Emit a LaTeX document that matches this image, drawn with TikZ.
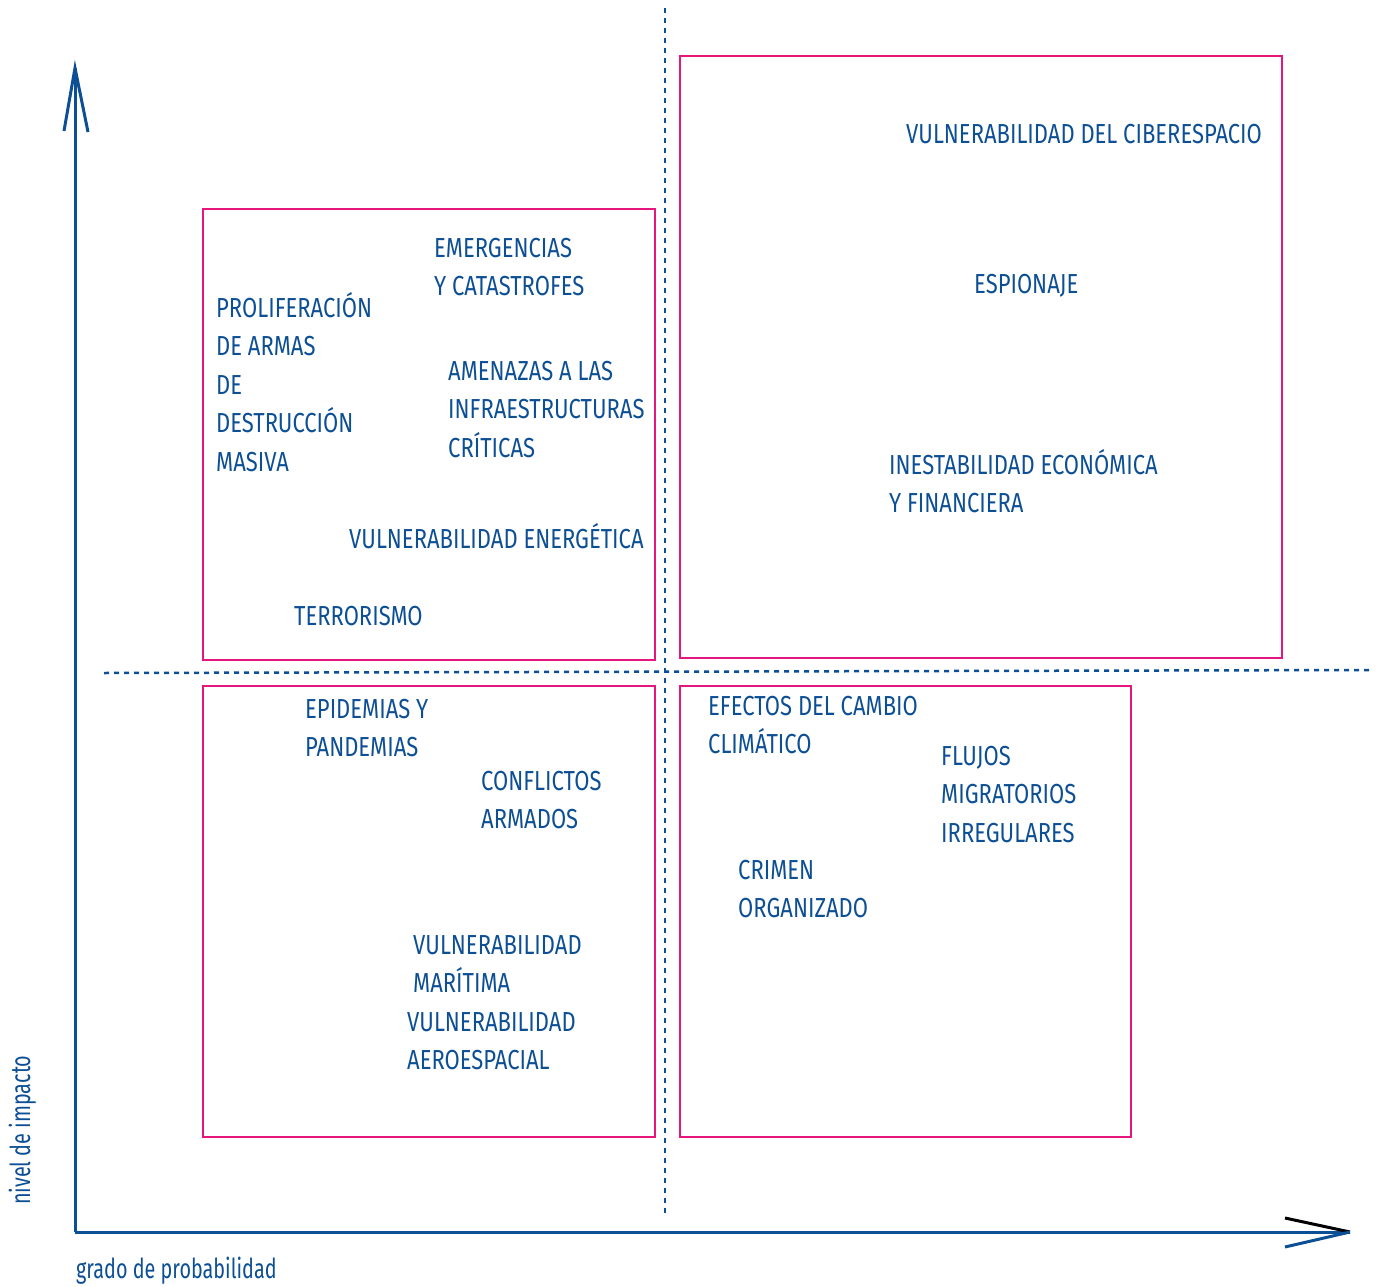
\documentclass[tikz,border=0pt]{standalone}
\usepackage{fontspec}
\setmainfont[FakeStretch=0.8]{Fira Sans}
\newfontfamily\axfont[FakeStretch=0.72]{Fira Sans}
\definecolor{ablue}{HTML}{0D4F94}
\definecolor{apink}{HTML}{E5177E}
\begin{document}
\begin{tikzpicture}[x=1pt,y=-1pt,
  axis/.style={ablue,line width=3pt},
  tip/.style={line width=3pt},
  grid/.style={ablue,line width=2.5pt,dash pattern=on 5pt off 5pt},
  qbox/.style={draw=apink,line width=2.5pt,anchor=north west,inner sep=0pt,outer sep=0pt},
  lbl/.style={anchor=north west,align=left,inner sep=0pt,text=ablue,
    font=\fontsize{27.5}{38.5}\selectfont},
  axlbl/.style={inner sep=0pt,text=ablue,font=\axfont\fontsize{27.5}{33}\selectfont}]
\useasboundingbox (0,0) rectangle (1379,1287);
% quadrant boxes
\node[qbox,minimum width=452pt,minimum height=451pt] (tl) at (203,209) {};
\node[qbox,minimum width=602pt,minimum height=602pt] (tr) at (680,56) {};
\node[qbox,minimum width=452pt,minimum height=451pt] (bl) at (203,686) {};
\node[qbox,minimum width=451pt,minimum height=451pt] (br) at (680,686) {};
% dotted dividers
\coordinate (vt) at (665,8);
\coordinate (vb) at (665,1213);
\coordinate (hl) at (104,673);
\coordinate (hr) at (1370,670);
\draw[grid] (vt) -- (vb);
\draw[grid] (hl) -- (hr);
% axes
\coordinate (o) at (75,1232);
\coordinate (ytip) at (75,68);
\coordinate (yl) at (64,131);
\coordinate (yr) at (88,132);
\coordinate (xtip) at (1350,1232);
\coordinate (xu) at (1285,1218);
\coordinate (xd) at (1285,1247);
\draw[axis,line cap=butt] (o) -- (ytip);
\draw[axis,line join=miter] (yl) -- (ytip) -- (yr);
\draw[axis] (o) -- (xtip);
\draw[tip,black] (xu) -- (xtip);
\draw[tip,ablue] (xd) -- (xtip);
% axis labels
\node[axlbl,anchor=base west] (xlab) at (76,1278) {grado de probabilidad};
\node[axlbl,anchor=base west,rotate=90] (ylab) at (30,1205) {nivel de impacto};
% labels
\def\S{\rule{0pt}{26pt}}
\node[lbl] (ciber) at (906,117) {\S VULNERABILIDAD DEL CIBERESPACIO};
\node[lbl] (espio) at (974,267) {\S ESPIONAJE};
\node[lbl] (inest) at (889,448) {\S INESTABILIDAD ECONÓMICA\\Y FINANCIERA};
\node[lbl] (emerg) at (434,231) {\S EMERGENCIAS\\Y CATASTROFES};
\node[lbl] (prolif) at (216,291) {\S PROLIFERACIÓN\\DE ARMAS\\DE\\DESTRUCCIÓN\\MASIVA};
\node[lbl] (amen) at (448,354) {\S AMENAZAS A LAS\\INFRAESTRUCTURAS\\CRÍTICAS};
\node[lbl] (energ) at (349,522) {\S VULNERABILIDAD ENERGÉTICA};
\node[lbl] (terr) at (294,599) {\S TERRORISMO};
\node[lbl] (epid) at (305,692) {\S EPIDEMIAS Y\\PANDEMIAS};
\node[lbl] (confl) at (481,764) {\S CONFLICTOS\\ARMADOS};
\node[lbl] (marit) at (413,928) {\S VULNERABILIDAD\\MARÍTIMA};
\node[lbl] (aero) at (407,1005) {\S VULNERABILIDAD\\AEROESPACIAL};
\node[lbl] (clima) at (708,689) {\S EFECTOS DEL CAMBIO\\CLIMÁTICO};
\node[lbl] (flujos) at (941,739) {\S FLUJOS\\MIGRATORIOS\\IRREGULARES};
\node[lbl] (crimen) at (738,853) {\S CRIMEN\\ORGANIZADO};
\end{tikzpicture}
\end{document}
